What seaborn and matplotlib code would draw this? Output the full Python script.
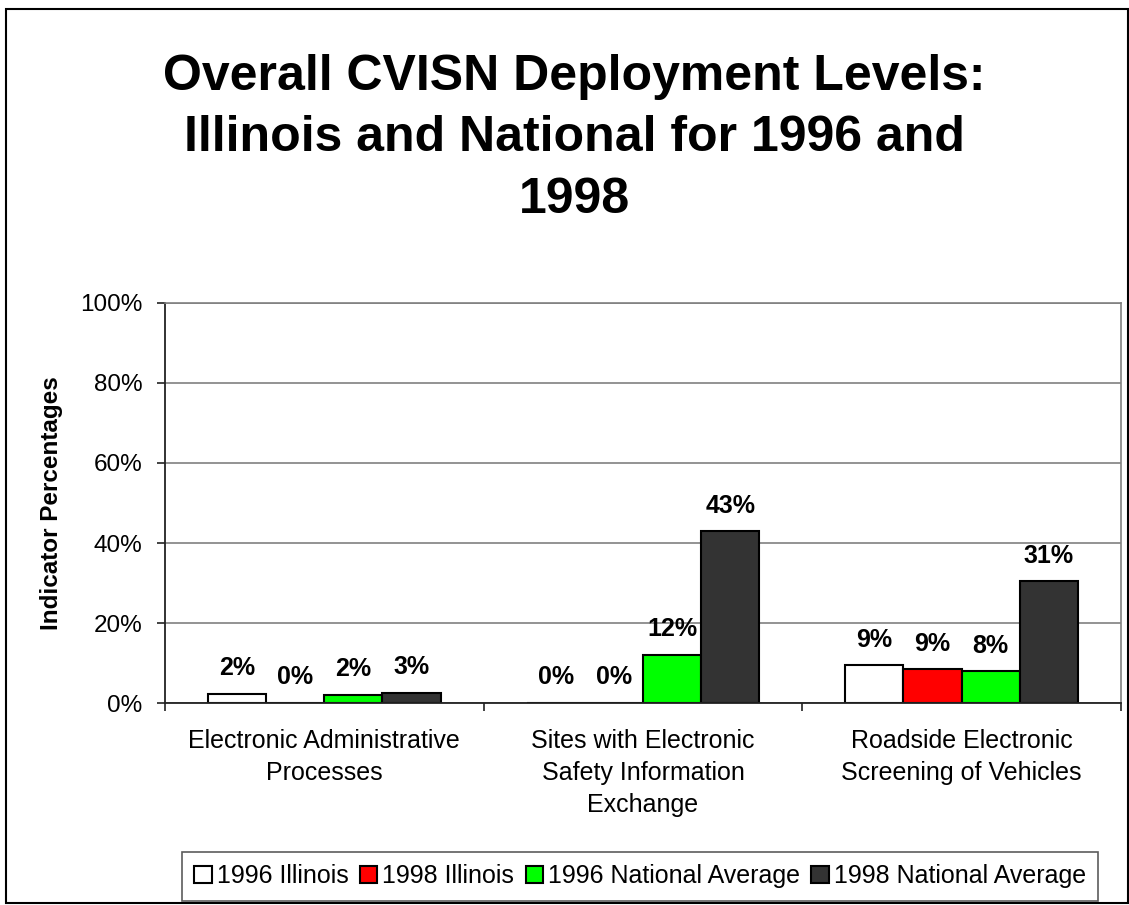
import pandas as pd
import matplotlib.pyplot as plt
import seaborn as sns
from matplotlib.patches import Rectangle
from matplotlib.ticker import FixedLocator

# --- Data ---
categories = ['Electronic Administrative\nProcesses',
              'Sites with Electronic\nSafety Information\nExchange',
              'Roadside Electronic\nScreening of Vehicles']
series = ['1996 Illinois', '1998 Illinois', '1996 National Average', '1998 National Average']
il_1996 = [2.2, 0.0, 9.4]
il_1998 = [0.0, 0.0, 8.4]
nat_1996 = [2.0, 12.0, 7.9]
nat_1998 = [2.5, 42.9, 30.4]
bar_labels = {
    '1996 Illinois': ['2%', '0%', '9%'],
    '1998 Illinois': ['0%', '0%', '9%'],
    '1996 National Average': ['2%', '12%', '8%'],
    '1998 National Average': ['3%', '43%', '31%'],
}
colors = ['#FFFFFF', '#FF0000', '#00FF00', '#333333']

# Style
sns.set_theme(style="white", rc={"text.color": "black", "axes.labelcolor": "black",
                                 "xtick.color": "black", "ytick.color": "black"})
plt.rcParams['font.family'] = ['Liberation Sans', 'DejaVu Sans']

rows = []
for name, vals in zip(series, [il_1996, il_1998, nat_1996, nat_1998]):
    for cat, v in zip(categories, vals):
        rows.append({'category': cat, 'series': name, 'value': v})
df = pd.DataFrame(rows)

fig = plt.figure(figsize=(11.29, 9.05), dpi=100, facecolor='white')
ax = fig.add_axes([0.1461, 0.2232, 0.9929 - 0.1461, 0.6652 - 0.2232])

sns.barplot(data=df, x='category', y='value', hue='series', hue_order=series,
            order=categories, palette=colors, width=0.73, edgecolor='black',
            linewidth=1.5, saturation=1, ax=ax)

for cont, name in zip(ax.containers, series):
    ax.bar_label(cont, labels=bar_labels[name], padding=10, fontsize=18,
                 fontweight='bold', color='black')

ax.set_xlim(-0.5, 2.5)
ax.set_ylim(0, 100)
ax.set_yticks([0, 20, 40, 60, 80, 100])
ax.set_yticklabels(['0%', '20%', '40%', '60%', '80%', '100%'], fontsize=17.5)
ax.yaxis.grid(True, color='#808080', linewidth=1.2)
ax.set_axisbelow(True)

ax.set_xlabel('')
ax.tick_params(axis='x', which='major', length=0, pad=19, labelsize=18)
ax.xaxis.set_minor_locator(FixedLocator([-0.5, 0.5, 1.5, 2.5]))
ax.tick_params(axis='x', which='minor', bottom=True, length=6, width=1.2, color='#222222', direction='out')
ax.tick_params(axis='y', left=True, length=6, width=1.2, color='#222222', direction='out', pad=10)
for lbl in ax.get_xticklabels():
    lbl.set_linespacing(1.4)

ax.set_ylabel('Indicator Percentages', fontsize=17.5, fontweight='bold')
ax.yaxis.set_label_coords(-0.107, 0.5)

for s in ['left', 'bottom']:
    ax.spines[s].set_color('#222222')
    ax.spines[s].set_linewidth(1.3)
for s in ['top', 'right']:
    ax.spines[s].set_color('#808080')
    ax.spines[s].set_linewidth(1.2)

# Legend at the bottom
handles, labels = ax.get_legend_handles_labels()
ax.get_legend().remove()
leg = fig.legend(handles, labels, loc='center', bbox_to_anchor=(0.567, 0.0315), ncol=4,
                 fontsize=18, frameon=True, fancybox=False, edgecolor='#333333',
                 handlelength=0.7, handleheight=0.7, handletextpad=0.2,
                 columnspacing=0.45, borderpad=0.5, borderaxespad=0)
leg.get_frame().set_linewidth(1.2)

fig.text(0.509, 0.94, 'Overall CVISN Deployment Levels:\nIllinois and National for 1996 and\n1998',
         ha='center', va='top', fontsize=36, fontweight='bold', linespacing=1.42)

# Outer chart border
fig.patches.append(Rectangle((6 / 1129, 0.002), 1 - 7 / 1129, 1 - 9 / 905 - 0.002,
                             transform=fig.transFigure, fill=False,
                             edgecolor='black', linewidth=1.5))

fig.savefig('out.png', dpi=100, facecolor='white')
